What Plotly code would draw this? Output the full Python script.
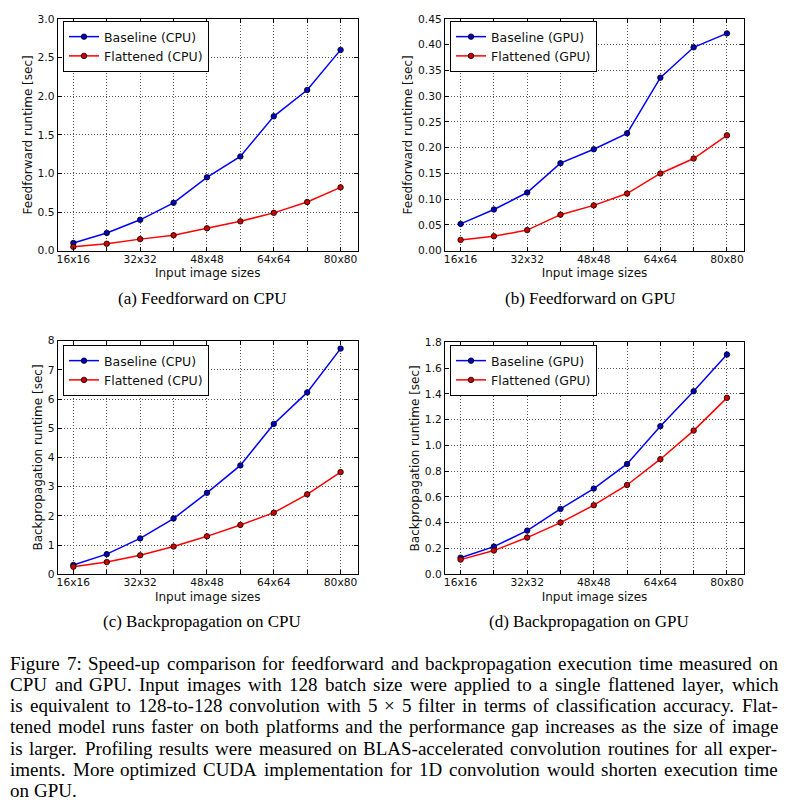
import plotly.graph_objects as go

# image sizes on the x axis (every other one labelled)
sizes = [16, 24, 32, 40, 48, 56, 64, 72, 80]
size_labels = ["16x16", "", "32x32", "", "48x48", "", "64x64", "", "80x80"]

# runtimes [sec]
ff_cpu_baseline = [0.10, 0.23, 0.40, 0.62, 0.95, 1.22, 1.74, 2.08, 2.60]
ff_cpu_flattened = [0.05, 0.09, 0.15, 0.20, 0.29, 0.38, 0.49, 0.63, 0.82]
ff_gpu_baseline = [0.052, 0.080, 0.113, 0.170, 0.197, 0.228, 0.336, 0.395, 0.422]
ff_gpu_flattened = [0.021, 0.028, 0.040, 0.070, 0.088, 0.111, 0.150, 0.179, 0.224]
bp_cpu_baseline = [0.32, 0.69, 1.23, 1.91, 2.79, 3.73, 5.15, 6.23, 7.73]
bp_cpu_flattened = [0.26, 0.42, 0.65, 0.95, 1.30, 1.69, 2.11, 2.74, 3.50]
bp_gpu_baseline = [0.129, 0.215, 0.339, 0.507, 0.665, 0.856, 1.149, 1.420, 1.705]
bp_gpu_flattened = [0.114, 0.184, 0.285, 0.401, 0.536, 0.693, 0.893, 1.115, 1.369]

devices = ["CPU", "GPU", "CPU", "GPU"]
y_titles = ["Feedforward runtime [sec]", "Feedforward runtime [sec]",
            "Backpropagation runtime [sec]", "Backpropagation runtime [sec]"]
sub_captions = ["(a) Feedforward on CPU", "(b) Feedforward on GPU",
                "(c) Backpropagation on CPU", "(d) Backpropagation on GPU"]
caption_lines = [
    "Figure 7: Speed-up comparison for feedforward and backpropagation execution time measured on",
    "CPU and GPU. Input images with 128 batch size were applied to a single flattened layer, which",
    "is equivalent to 128-to-128 convolution with 5 × 5 filter in terms of classification accuracy. Flat-",
    "tened model runs faster on both platforms and the performance gap increases as the size of image",
    "is larger. Profiling results were measured on BLAS-accelerated convolution routines for all exper-",
    "iments. More optimized CUDA implementation for 1D convolution would shorten execution time",
    "on GPU.",
]

series = [
    (ff_cpu_baseline, ff_cpu_flattened),
    (ff_gpu_baseline, ff_gpu_flattened),
    (bp_cpu_baseline, bp_cpu_flattened),
    (bp_gpu_baseline, bp_gpu_flattened),
]

# the page body has an 8px margin, so the figure is drawn 8px in from the corner;
# keep it small enough that the page does not scroll
OFF = 8
W, H = 788 - OFF, 809 - 2 * OFF
BLUE, RED = "#0000ff", "#ff0000"
SANS = "DejaVu Sans"
SERIF = "Liberation Serif"


def px(x):
    return (x - OFF) / W


def py(y):
    return 1 - (y - OFF) / H


# layout in page pixels: plot box (left, top, right, bottom), legend corner, caption centre
boxes = [(57.7, 19, 357.7, 250.7), (445, 19, 744, 250.7),
         (57.7, 340.7, 357.7, 574.3), (445, 342.3, 744, 574.3)]
legend_pos = [(63, 21), (450, 21), (63, 345), (450, 345)]
caption_pos = [(202, 298), (590, 298), (202, 621), (589, 621)]
y_ranges = [(3.0, 0.5, ".1f"), (0.45, 0.05, ".2f"), (8, 1, "d"), (1.8, 0.2, ".1f")]

fig = go.Figure()
layout = {}

for i in range(4):
    n = "" if i == 0 else str(i + 1)
    xa, ya, leg = "x" + n, "y" + n, "legend" + n
    base, flat = series[i]
    dev = devices[i]
    fig.add_trace(go.Scatter(
        x=sizes, y=base, mode="lines+markers", name=f"Baseline ({dev})",
        line=dict(color=BLUE, width=1.5),
        marker=dict(size=5.5, color="#0000c0", line=dict(color="black", width=0.8)),
        xaxis=xa, yaxis=ya, legend=leg))
    fig.add_trace(go.Scatter(
        x=sizes, y=flat, mode="lines+markers", name=f"Flattened ({dev})",
        line=dict(color=RED, width=1.5),
        marker=dict(size=5.5, color="#d00000", line=dict(color="black", width=0.8)),
        xaxis=xa, yaxis=ya, legend=leg))

    x0, y0, x1, y1 = boxes[i]
    common = dict(
        showline=True, linecolor="black", linewidth=1, mirror="ticks",
        ticks="inside", ticklen=4, tickcolor="black",
        showgrid=True, gridcolor="#555555", gridwidth=0.8, griddash="1px,2px",
        zeroline=False, automargin=False,
        tickfont=dict(family=SANS, size=10.7, color="#111"),
    )
    layout["xaxis" + n] = dict(
        common, domain=[px(x0), px(x1)], anchor=ya, range=[12.25, 84.1],
        tickvals=sizes, ticktext=size_labels, ticklabelstandoff=-2,
        title=dict(text="Input image sizes", standoff=4,
                   font=dict(family=SANS, size=12, color="#111")))
    ymax, dt, fmt = y_ranges[i]
    layout["yaxis" + n] = dict(
        common, domain=[py(y1), py(y0)], anchor=xa, range=[0, ymax],
        dtick=dt, tick0=0, tickformat=fmt,
        title=dict(text=y_titles[i], standoff=2,
                   font=dict(family=SANS, size=12, color="#111")))
    lx, ly = legend_pos[i]
    layout[leg] = dict(
        x=px(lx), y=py(ly), xanchor="left", yanchor="top",
        bgcolor="white", bordercolor="black", borderwidth=1,
        font=dict(family=SANS, size=12.5, color="#111"), itemwidth=30)
    cx, cy = caption_pos[i]
    fig.add_annotation(x=px(cx), y=py(cy), xref="paper", yref="paper",
                       xanchor="center", yanchor="middle",
                       text=sub_captions[i], showarrow=False,
                       font=dict(family=SERIF, size=17, color="black"))

# Times advance widths (per 1000 em) for justifying the figure caption
TIMES = {" ": 250, "(": 333, ")": 333, ",": 250, "-": 333, ".": 250, ":": 278, "×": 564,
         "A": 722, "B": 667, "C": 667, "D": 722, "E": 611, "F": 556, "G": 722, "H": 722,
         "I": 333, "J": 389, "K": 722, "L": 611, "M": 889, "N": 722, "O": 722, "P": 556,
         "Q": 722, "R": 667, "S": 556, "T": 611, "U": 722, "V": 722, "W": 944, "X": 722,
         "Y": 722, "Z": 611, "a": 444, "b": 500, "c": 444, "d": 500, "e": 444, "f": 333,
         "g": 500, "h": 500, "i": 278, "j": 278, "k": 500, "l": 278, "m": 778, "n": 500,
         "o": 500, "p": 500, "q": 500, "r": 333, "s": 389, "t": 278, "u": 500, "v": 500,
         "w": 722, "x": 500, "y": 500, "z": 444}


def serif_width(text, size):
    return sum(TIMES.get(ch, 500) for ch in text) * size / 1000.0


fsize = 19
left, right = 9.3, 777
first_baseline, line_gap = 669.3, 21.2
for i, line in enumerate(caption_lines):
    words = line.split(" ")
    yc = py(first_baseline + i * line_gap - 6)
    if i == len(caption_lines) - 1:
        gap = serif_width(" ", fsize)
    else:
        gap = (right - left - sum(serif_width(w, fsize) for w in words)) / (len(words) - 1)
    x = left
    for w in words:
        fig.add_annotation(x=px(x), y=yc, xref="paper", yref="paper", text=w,
                           showarrow=False, xanchor="left", yanchor="middle", borderpad=0,
                           font=dict(family=SERIF, size=fsize, color="black"))
        x += serif_width(w, fsize) + gap

fig.update_layout(
    width=W, height=H, margin=dict(l=0, r=0, t=0, b=0),
    paper_bgcolor="white", plot_bgcolor="white", **layout)

fig.write_html("out.html")
